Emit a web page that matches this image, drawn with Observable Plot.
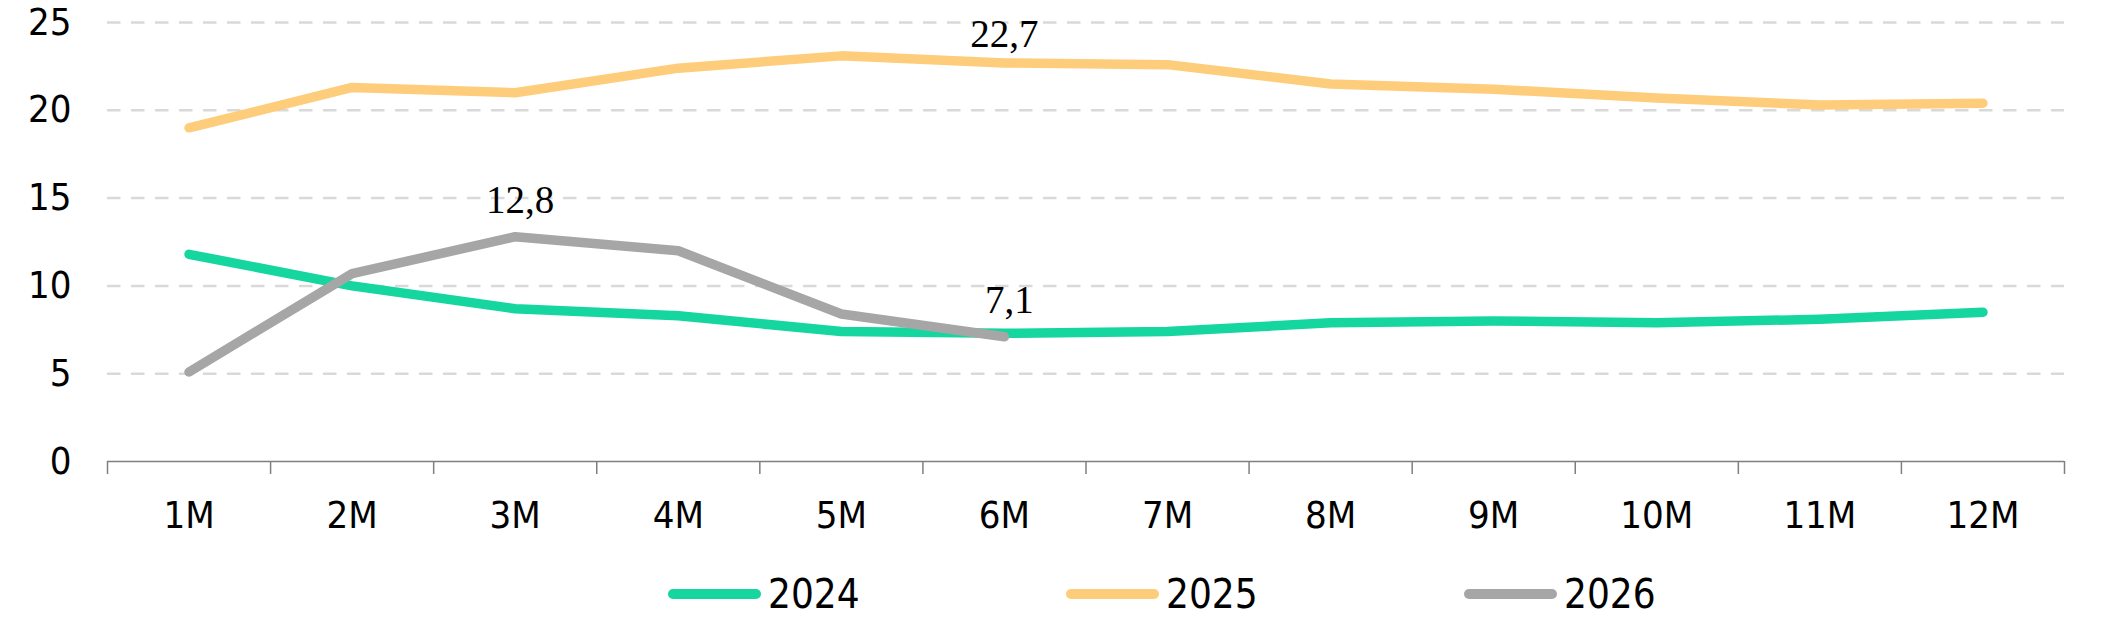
<!DOCTYPE html>
<html>
<head>
<meta charset="utf-8">
<script src="https://cdn.jsdelivr.net/npm/d3@7"></script>
<script src="https://cdn.jsdelivr.net/npm/@observablehq/plot@0.6"></script>
<style>
  html, body { margin: 0; padding: 0; background: #fff; }
  #chart svg { display: block; }
  .legend {
    display: flex;
    margin-left: 668px;
    margin-top: 24px;
    height: 40px;
    font-family: "DejaVu Sans Condensed", "DejaVu Sans", sans-serif;
    font-size: 40px;
    color: #000;
  }
  .legend .item { display: flex; align-items: center; width: 398px; height: 40px; }
  .legend .swatch { width: 93px; height: 10px; border-radius: 5px; margin-right: 7px; }
</style>
</head>
<body>
<div id="chart"></div>
<div class="legend" id="legend"></div>
<script>
// Month categories on the x axis
const months = ["1M", "2M", "3M", "4M", "5M", "6M", "7M", "8M", "9M", "10M", "11M", "12M"];

// One value per month and year
const values2024 = [11.8, 10.0, 8.7, 8.3, 7.4, 7.3, 7.4, 7.9, 8.0, 7.9, 8.1, 8.5];
const values2025 = [19.0, 21.3, 21.0, 22.4, 23.1, 22.7, 22.6, 21.5, 21.2, 20.7, 20.3, 20.4];
const values2026 = [5.1, 10.7, 12.8, 12.0, 8.4, 7.1];

const seriesNames = ["2024", "2025", "2026"];
const seriesColors = ["#14d69e", "#fecd7c", "#a6a6a6"];

// Months whose value is written next to the line
const labeled2025 = ["6M"];
const labeled2026 = ["3M", "6M"];

const yTicks = [0, 5, 10, 15, 20, 25];

const seriesValues = [values2024, values2025, values2026];
const rows = seriesValues.flatMap((vals, s) =>
  vals.map((v, i) => ({ series: seriesNames[s], month: months[i], m: i + 1, value: v }))
);
const fmt = v => d3.format(".1f")(v).replace(".", ",");
const labelRows = (name, list) => rows.filter(r => r.series === name && list.includes(r.month));

// Band edges between months, where the small axis ticks sit
const edges = d3.range(months.length + 1).map(i => i + 0.5);

const axisFont = "'DejaVu Sans Condensed', 'DejaVu Sans', sans-serif";
const labelFont = "'Liberation Serif', serif";

const chart = Plot.plot({
  width: 2102,
  height: 550,
  marginTop: 22,
  marginBottom: 89,
  marginLeft: 107,
  marginRight: 38,
  x: { type: "linear", domain: [0.5, months.length + 0.5], label: null },
  y: { domain: [0, 25], label: null },
  color: { domain: seriesNames, range: seriesColors },
  style: { fontFamily: axisFont, fontSize: "38px", color: "#000", background: "#fff", overflow: "visible" },
  marks: [
    Plot.ruleY(yTicks.filter(d => d > 0), {
      stroke: "#d9d9d9", strokeWidth: 2.5, strokeDasharray: "13.5,10.5"
    }),
    Plot.axisY({ ticks: yTicks, tickSize: 0, tickPadding: 36, tickFormat: d => String(d), fontSize: 38, label: null }),
    Plot.axisX({ ticks: edges, tickSize: 13, tickFormat: () => "", stroke: "#7f7f7f", strokeWidth: 1.5, label: null }),
    Plot.axisX({
      ticks: months.map((_, i) => i + 1), tickSize: 0, tickPadding: 40,
      tickFormat: i => months[i - 1], fontSize: 38, label: null
    }),
    Plot.ruleY([0], { stroke: "#7f7f7f", strokeWidth: 1.5 }),
    Plot.line(rows, {
      x: "m", y: "value", z: "series", stroke: "series",
      strokeWidth: 9.5, strokeLinecap: "round", strokeLinejoin: "round"
    }),
    Plot.text(labelRows("2025", labeled2025), {
      x: "m", y: "value", text: d => fmt(d.value), dy: -28,
      fontFamily: labelFont, fontSize: 39, fill: "#000"
    }),
    Plot.text(labelRows("2026", labeled2026), {
      x: "m", y: "value", text: d => fmt(d.value), dy: -36, dx: 5,
      fontFamily: labelFont, fontSize: 39, fill: "#000"
    })
  ]
});
document.getElementById("chart").appendChild(chart);

// Legend under the chart
const legend = d3.select("#legend");
seriesNames.forEach((name, i) => {
  const item = legend.append("div").attr("class", "item");
  item.append("span").attr("class", "swatch").style("background", seriesColors[i]);
  item.append("span").text(name);
});
</script>
</body>
</html>
